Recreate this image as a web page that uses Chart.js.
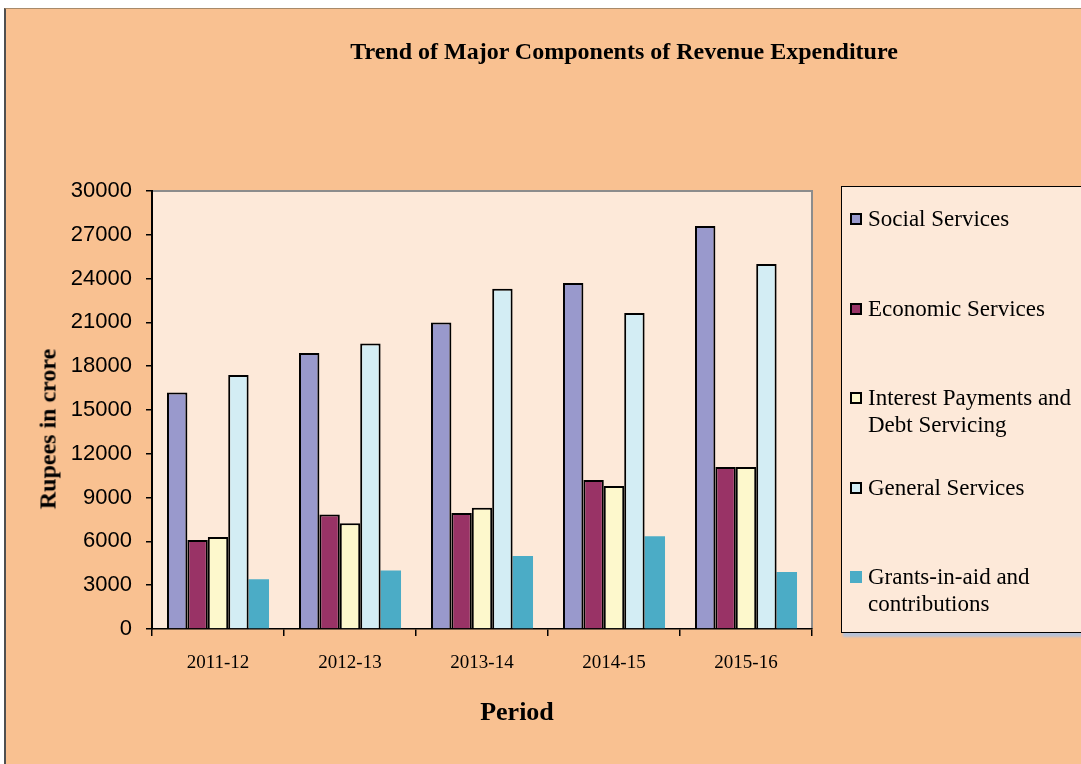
<!DOCTYPE html>
<html>
<head>
<meta charset="utf-8">
<script src="https://cdn.jsdelivr.net/npm/chart.js@4/dist/chart.umd.min.js"></script>
<style>
    html, body { margin: 0; padding: 0; width: 1081px; height: 764px; overflow: hidden; background: #fff; }
    #frame { position: absolute; left: 4px; top: 8px; width: 1077px; height: 756px; background: #F9C191; border-left: 2px solid #505050; border-top: 1px solid #a88a6a; box-sizing: border-box; }
    #chart { position: absolute; left: 0; top: 0; }
    .txt { position: absolute; font-family: "Liberation Serif", "Times New Roman", serif; color: #000; white-space: nowrap; }
    #title { left: 0; width: 1248px; top: 38px; text-align: center; font-weight: bold; font-size: 24px; }
    #xTitle { left: 0; width: 1034px; top: 697px; text-align: center; font-weight: bold; font-size: 26px; }
    #yTitle { left: 48px; top: 429px; font-weight: bold; font-size: 24px; transform: translate(-50%, -50%) rotate(-90deg); }
    #legend { position: absolute; left: 841px; top: 186px; width: 270px; height: 447px; background: #FDE9D9; border: 1px solid #000; box-sizing: border-box; box-shadow: 2px 4px 2px #b8c2d6; }
    .item { position: absolute; left: 8px; font-family: "Liberation Serif", "Times New Roman", serif; font-size: 23px; line-height: 27px; color: #000; }
    .sw { position: absolute; left: 0; top: 8px; width: 12px; height: 12px; box-sizing: border-box; }
    .lbl { position: absolute; left: 18px; top: 0; white-space: nowrap; }
</style>
</head>
<body>
<div id="frame"></div>
<canvas id="chart" width="1081" height="764"></canvas>
<div class="txt" id="title">Trend of Major Components of Revenue Expenditure</div>
<div class="txt" id="xTitle">Period</div>
<div class="txt" id="yTitle">Rupees in crore</div>
<div id="legend"></div>
<script>
// Dados (Rupees in crore)
const periods = ['2011-12', '2012-13', '2013-14', '2014-15', '2015-16'];
const seriesNames = ['Social Services', 'Economic Services', ['Interest Payments and', 'Debt Servicing'], 'General Services', ['Grants-in-aid and', 'contributions']];
const socialServices = [16200, 18900, 21000, 23700, 27600];
const economicServices = [6100, 7850, 7950, 10200, 11100];
const interestPayments = [6300, 7250, 8300, 9800, 11100];
const generalServices = [17400, 19550, 23300, 21650, 25000];
const grantsInAid = [3400, 4000, 5000, 6350, 3900];
const yTicks = [0, 3000, 6000, 9000, 12000, 15000, 18000, 21000, 24000, 27000, 30000];

const seriesValues = [socialServices, economicServices, interestPayments, generalServices, grantsInAid];
const COLORS = ['#9999CC', '#993366', '#FDF8CC', '#D3EDF4', '#4BACC6'];
const BORDERS = [2, 2, 2, 2, 0];

// Fundo da área do gráfico
const plotBg = {
    id: 'plotBg',
    beforeDraw(chart) {
        const { ctx, chartArea: a } = chart;
        ctx.save();
        ctx.fillStyle = '#FDE9D9';
        ctx.fillRect(a.left, a.top, a.right - a.left, a.bottom - a.top);
        ctx.strokeStyle = '#8c8c8c';
        ctx.lineWidth = 2;
        ctx.beginPath();
        ctx.moveTo(a.left, a.top);
        ctx.lineTo(a.right, a.top);
        ctx.lineTo(a.right, a.bottom);
        ctx.stroke();
        ctx.restore();
    }
};

const datasets = seriesValues.map((vals, i) => ({
    label: seriesNames[i],
    data: vals,
    backgroundColor: COLORS[i],
    borderColor: '#000',
    borderWidth: BORDERS[i],
    categoryPercentage: 0.773,
    barPercentage: 1.0
}));

const chart = new Chart(document.getElementById('chart').getContext('2d'), {
    type: 'bar',
    data: { labels: periods, datasets },
    options: {
        responsive: false,
        animation: false,
        layout: { padding: { top: 191, right: 269, left: 0, bottom: 0 } },
        plugins: { legend: { display: false }, tooltip: { enabled: false }, title: { display: false } },
        scales: {
            x: {
                grid: { drawOnChartArea: false, tickLength: 7, color: '#000', lineWidth: 1.5, offset: true },
                border: { color: '#000', width: 1.5 },
                ticks: { color: '#000', padding: 16, font: { family: '"Liberation Serif", serif', size: 19 } },
                afterFit(s) { s.height = 764 - 629; }
            },
            y: {
                min: 0, max: 30000,
                afterBuildTicks(s) { s.ticks = yTicks.map(v => ({ value: v })); },
                grid: { drawOnChartArea: false, tickLength: 6, color: '#000', lineWidth: 1.5 },
                border: { color: '#000', width: 2 },
                ticks: { color: '#000', padding: 14, font: { family: '"Liberation Sans", Arial, sans-serif', size: 22 }, callback: v => String(v) },
                afterFit(s) { s.width = 152; }
            }
        }
    },
    plugins: [plotBg]
});

// Legenda em HTML
const legend = document.getElementById('legend');
chart.data.datasets.forEach((ds, i) => {
    const item = document.createElement('div');
    item.className = 'item';
    item.style.top = (18 + i * 89.5) + 'px';
    const lines = Array.isArray(ds.label) ? ds.label : [ds.label];
    const border = ds.borderWidth ? `border:2px solid #000;` : '';
    item.innerHTML = `<span class="sw" style="background:${ds.backgroundColor};${border}"></span><span class="lbl">${lines.join('<br>')}</span>`;
    legend.appendChild(item);
});
</script>
</body>
</html>
